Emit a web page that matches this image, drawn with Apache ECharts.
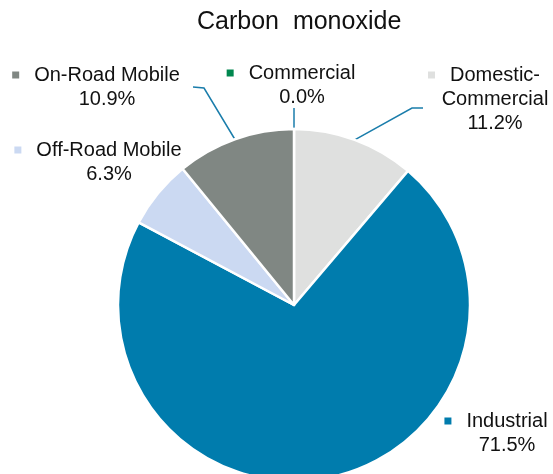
<!DOCTYPE html>
<html>
<head>
<meta charset="utf-8">
<script src="https://cdn.jsdelivr.net/npm/echarts@6/dist/echarts.min.js"></script>
<style>
  html, body { margin: 0; padding: 0; background: #fff; }
  #main { width: 553px; height: 474px; }
</style>
</head>
<body>
<div id="main"></div>
<script>
// data, clockwise from 12 o'clock
let sources = ['Commercial', 'Domestic-\nCommercial', 'Industrial', 'Off-Road Mobile', 'On-Road Mobile'];
let shares = [0.0, 11.2, 71.5, 6.3, 10.9];
let colors = ['#00874f', '#dfe0df', '#007cad', '#cbd9f2', '#808783'];

// where each label sits (block centre) and the bends of its leader line
let labelPos = [
    {x: 291, y: 85, line: [[294, 108]]},
    {x: 484, y: 99, line: [[412, 108], [423, 108]]},
    {x: 496, y: 433, line: null},
    {x: 98, y: 162, line: null},
    {x: 96, y: 87, line: [[204, 88], [193, 87]]}
];

let rich = {
    gap: {width: 15},
    sp: {width: 22}
};
colors.forEach(function (c, i) {
    rich['sq' + i] = {width: 7, height: 7, backgroundColor: c};
});

let chart = echarts.init(document.getElementById('main'));

chart.setOption({
    backgroundColor: '#fff',
    animation: false,
    title: {
        text: 'Carbon  monoxide',
        left: 192,
        top: 5,
        textStyle: {
            fontFamily: 'Liberation Sans, Arial, sans-serif',
            fontWeight: 'normal',
            fontSize: 25,
            color: '#111'
        }
    },
    series: [{
        type: 'pie',
        center: [294, 305],
        radius: 176,
        startAngle: 90,
        clockwise: true,
        avoidLabelOverlap: false,
        itemStyle: {borderColor: '#fff', borderWidth: 2.5},
        label: {
            show: true,
            position: 'outside',
            fontFamily: 'Liberation Sans, Arial, sans-serif',
            fontSize: 20,
            lineHeight: 24,
            color: '#111',
            align: 'center',
            formatter: function (p) {
                let lines = p.name.split('\n');
                let out = lines.map(function (l, k) {
                    return (k === 0 ? '{sq' + p.dataIndex + '| }{gap| }' : '{sp| }') + l;
                });
                out.push('{sp| }' + p.value.toFixed(1) + '%');
                return out.join('\n');
            },
            rich: rich
        },
        labelLine: {
            show: true,
            length: 10,
            length2: 10,
            lineStyle: {color: '#1a7dab', width: 1.5}
        },
        labelLayout: function (params) {
            let pos = labelPos[params.dataIndex];
            let res = {x: pos.x, y: pos.y, align: 'center', verticalAlign: 'middle'};
            if (pos.line && params.labelLinePoints) {
                res.labelLinePoints = [params.labelLinePoints[0]].concat(pos.line);
            }
            return res;
        },
        data: sources.map(function (s, i) {
            return {
                name: s,
                value: shares[i],
                itemStyle: {color: colors[i]},
                labelLine: {show: labelPos[i].line !== null}
            };
        })
    }]
});
</script>
</body>
</html>
